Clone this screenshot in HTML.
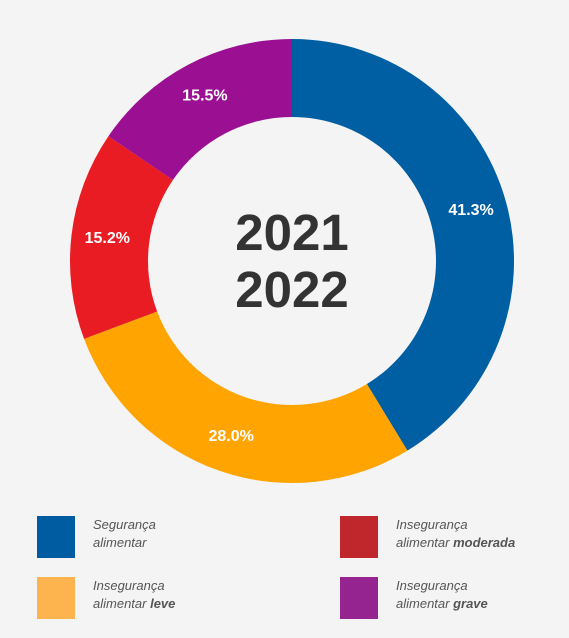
<!DOCTYPE html>
<html><head><meta charset="utf-8"><style>
body{margin:0;background:#f4f4f4;width:569px;height:638px;overflow:hidden;font-family:"Liberation Sans",sans-serif}
.sw{position:absolute;width:38px;height:42px}
.lt{position:absolute;font-style:italic;font-size:13px;line-height:18px;color:#555}
</style></head><body>
<svg id="chart" width="569" height="490" style="position:absolute;left:0;top:0">
<text x="292" y="250" text-anchor="middle" font-weight="bold" font-size="51" fill="#333">2021</text>
<text x="292" y="307" text-anchor="middle" font-weight="bold" font-size="51" fill="#333">2022</text>
</svg>
<div class="sw" style="left:37px;top:516px;background:#005ca0"></div>
<div class="lt" style="left:93px;top:516px">Segurança<br>alimentar</div>
<div class="sw" style="left:37px;top:577px;background:#fdb44f"></div>
<div class="lt" style="left:93px;top:577px">Insegurança<br>alimentar <b>leve</b></div>
<div class="sw" style="left:340px;top:516px;background:#c0272d"></div>
<div class="lt" style="left:396px;top:516px">Insegurança<br>alimentar <b>moderada</b></div>
<div class="sw" style="left:340px;top:577px;background:#952490"></div>
<div class="lt" style="left:396px;top:577px">Insegurança<br>alimentar <b>grave</b></div>
<script>
const categories=["seguranca","leve","moderada","grave"];
const values=[41.3,28.0,15.2,15.5];
const colors=["#005ea2","#ffa400","#e91c24","#9b0f92"];
const svg=document.getElementById('chart');
const ns="http://www.w3.org/2000/svg";
const cx=292,cy=261,R=222,r=144,LR=186;
const total=values.reduce((a,b)=>a+b,0);
function pt(a,rad){return [cx+rad*Math.sin(a),cy-rad*Math.cos(a)];}
let acc=0;
const first=svg.firstChild;
values.forEach((v,i)=>{
  const a0=acc/total*2*Math.PI; acc+=v; const a1=acc/total*2*Math.PI;
  const large=(a1-a0)>Math.PI?1:0;
  const [x0,y0]=pt(a0,R),[x1,y1]=pt(a1,R),[x2,y2]=pt(a1,r),[x3,y3]=pt(a0,r);
  const p=document.createElementNS(ns,'path');
  p.setAttribute('d',`M${x0},${y0}A${R},${R} 0 ${large} 1 ${x1},${y1}L${x2},${y2}A${r},${r} 0 ${large} 0 ${x3},${y3}Z`);
  p.setAttribute('fill',colors[i]);
  
  
  svg.insertBefore(p,first);
  const [lx,ly]=pt((a0+a1)/2,LR);
  const t=document.createElementNS(ns,'text');
  t.setAttribute('x',lx);t.setAttribute('y',ly+4);
  t.setAttribute('text-anchor','middle');t.setAttribute('font-weight','bold');
  t.setAttribute('font-size','16');t.setAttribute('fill','#fff');
  t.textContent=v.toFixed(1)+'%';
  
  
  svg.appendChild(t);
});
</script>
</body></html>
